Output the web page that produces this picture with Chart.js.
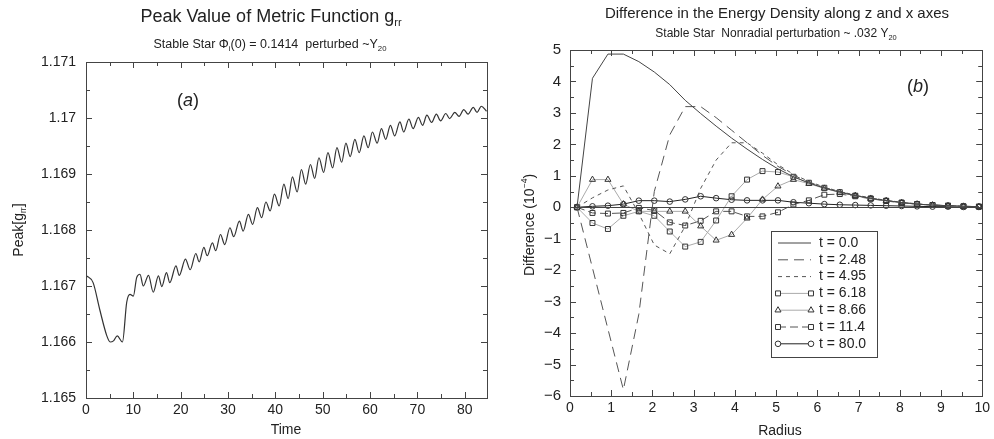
<!DOCTYPE html>
<html>
<head>
<meta charset="utf-8">
<script src="https://cdn.jsdelivr.net/npm/chart.js@4.4.1/dist/chart.umd.min.js"></script>
<style>
body { margin: 0; background: #fff; }
.wrap { display: flex; width: 994px; height: 439px; }
canvas { display: block; }
</style>
</head>
<body>
<div class="wrap">
<canvas id="peakChart" width="497" height="439"></canvas>
<canvas id="diffChart" width="497" height="439"></canvas>
</div>
<script>
// (a) peak of g_rr against time, turning points
const peakTime = [0, 1.5, 2.9, 4.4, 5.1, 5.8, 6.6, 7.7, 8.6, 9.3,
    10.0, 10.7, 11.4, 12.1, 13.2, 14.2, 15.3, 16.0, 17.0, 17.7,
    19.0, 19.7, 21.0, 22.0, 23.2, 23.9, 24.9, 25.6, 26.7, 27.4,
    28.4, 29.3, 30.4, 31.2, 32.4, 33.2, 34.3, 35.2, 36.2, 37.1,
    38.0, 38.9, 39.8, 40.8, 41.8, 42.7, 43.6, 44.6, 45.5, 46.4,
    47.4, 48.3, 49.2, 50.2, 51.1, 52.1, 53.0, 54.0, 54.9, 55.8,
    56.8, 57.7, 58.7, 59.6, 60.5, 61.5, 62.4, 63.3, 64.3, 65.2,
    66.3, 67.1, 68.2, 69.1, 70.2, 71.1, 72.0, 73.0, 74.0, 74.9,
    76.0, 76.8, 77.9, 78.8, 79.8, 80.7, 81.8, 82.6, 83.5, 84.6];
const peakValue = [1.16719, 1.16706, 1.16658, 1.16611, 1.1660, 1.16602, 1.16611, 1.1660, 1.16671, 1.16685,
    1.16682, 1.16715, 1.16721, 1.1670, 1.16719, 1.16689, 1.16718, 1.16699, 1.16724, 1.16706,
    1.16736, 1.16719, 1.16748, 1.16729, 1.16758, 1.16743, 1.16769, 1.16754, 1.16777, 1.16763,
    1.16792, 1.16774, 1.16804, 1.16788, 1.16816, 1.16798, 1.16828, 1.1681, 1.1684, 1.16822,
    1.1685, 1.16834, 1.16864, 1.16843, 1.16882, 1.16856, 1.16895, 1.16868, 1.16908, 1.16882,
    1.16917, 1.16892, 1.16929, 1.16903, 1.16938, 1.16911, 1.16947, 1.16921, 1.16955, 1.16931,
    1.16962, 1.16938, 1.16968, 1.16947, 1.16975, 1.16955, 1.16981, 1.16962, 1.16987, 1.16968,
    1.16993, 1.16975, 1.16998, 1.16981, 1.17001, 1.16987, 1.17005, 1.16992, 1.17007, 1.16995,
    1.17008, 1.16999, 1.1701, 1.17003, 1.17015, 1.17007, 1.17019, 1.1701, 1.17021, 1.17012];
const timeTicks = [0, 10, 20, 30, 40, 50, 60, 70, 80];
const peakTicks = [1.165, 1.166, 1.167, 1.168, 1.169, 1.170, 1.171];
const peakTickLabels = ['1.165', '1.166', '1.167', '1.168', '1.169', '1.17', '1.171'];

// (b) difference in energy density, grid points along radius
const radius = [0.17, 0.545, 0.92, 1.295, 1.67, 2.045, 2.42, 2.795, 3.17, 3.545,
    3.92, 4.295, 4.67, 5.045, 5.42, 5.795, 6.17, 6.545, 6.92, 7.295,
    7.67, 8.045, 8.42, 8.795, 9.17, 9.545, 9.92];
const diffT000 = [0, 4.1, 4.87, 4.87, 4.63, 4.3, 3.9, 3.4, 2.98, 2.58, 2.2, 1.85, 1.52, 1.22, 0.97, 0.77, 0.61, 0.48, 0.37, 0.28, 0.21, 0.15, 0.1, 0.07, 0.05, 0.03, 0.02];
const diffT248 = [0, -1.93, -3.87, -5.8, -3.4, 0.5, 2.3, 3.2, 3.2, 2.85, 2.45, 2.05, 1.65, 1.3, 1.02, 0.8, 0.63, 0.5, 0.38, 0.29, 0.22, 0.15, 0.1, 0.07, 0.05, 0.03, 0.02];
const diffT495 = [0, 0.3, 0.55, 0.68, -0.2, -1.2, -1.48, -0.6, 0.6, 1.5, 2.05, 2.05, 1.72, 1.35, 1.05, 0.82, 0.64, 0.5, 0.39, 0.3, 0.22, 0.16, 0.11, 0.07, 0.05, 0.03, 0.02];
const diffT618 = [0, -0.5, -0.69, -0.27, -0.13, -0.27, -0.77, -1.25, -1.1, -0.42, 0.35, 0.88, 1.15, 1.12, 0.97, 0.78, 0.62, 0.48, 0.37, 0.28, 0.21, 0.15, 0.1, 0.07, 0.05, 0.03, 0.02];
const diffT866 = [0, 0.88, 0.88, 0.1, -0.13, -0.13, -0.13, -0.13, -0.6, -1.05, -0.87, -0.35, 0.25, 0.67, 0.88, 0.75, 0.6, 0.47, 0.37, 0.28, 0.21, 0.15, 0.1, 0.07, 0.05, 0.03, 0.02];
const diffT114 = [0, -0.18, -0.2, -0.18, -0.02, -0.1, -0.48, -0.58, -0.43, -0.13, -0.13, -0.29, -0.29, -0.16, 0.09, 0.22, 0.4, 0.42, 0.35, 0.27, 0.2, 0.14, 0.1, 0.07, 0.05, 0.03, 0.02];
const diffT800 = [0, 0.03, 0.05, 0.1, 0.21, 0.21, 0.18, 0.25, 0.35, 0.29, 0.24, 0.22, 0.22, 0.22, 0.16, 0.13, 0.1, 0.08, 0.07, 0.06, 0.05, 0.04, 0.03, 0.02, 0.02, 0.01, 0.01];
const diffLabels = ['t = 0.0', 't = 2.48', 't = 4.95', 't = 6.18', 't = 8.66', 't = 11.4', 't = 80.0'];
const radiusTicks = [0, 1, 2, 3, 4, 5, 6, 7, 8, 9, 10];
const diffTicks = [-6, -5, -4, -3, -2, -1, 0, 1, 2, 3, 4, 5];

const FONT = '"Liberation Sans", Arial, Helvetica, sans-serif';
const INK = '#222';

// text with sub/superscripts: parts = [[text, 'n'|'sub'|'sup', italic]]
function drawRich(ctx, item) {
    const size = item.size;
    ctx.save();
    ctx.translate(item.x, item.y);
    if (item.rotate) ctx.rotate(item.rotate);
    ctx.fillStyle = INK;
    ctx.textBaseline = 'middle';
    ctx.textAlign = 'left';
    const pieces = item.parts.map(p => {
        const fs = p[1] === 'n' ? size : size * 0.62;
        const font = (p[2] ? 'italic ' : '') + fs + 'px ' + FONT;
        ctx.font = font;
        return { text: p[0], mode: p[1], font: font, w: ctx.measureText(p[0]).width };
    });
    const total = pieces.reduce((s, p) => s + p.w, 0);
    let x = -total / 2;
    pieces.forEach(p => {
        ctx.font = p.font;
        let dy = 0;
        if (p.mode === 'sub') dy = size * 0.32;
        if (p.mode === 'sup') dy = -size * 0.35;
        ctx.fillText(p.text, x, dy);
        x += p.w;
    });
    ctx.restore();
}

// box frame with inward ticks on all four sides, plus annotations
const framePlugin = {
    id: 'frame',
    afterDraw(chart, args, opts) {
        const ctx = chart.ctx;
        const a = chart.chartArea;
        const xs = chart.scales.x, ys = chart.scales.y;
        ctx.save();
        ctx.strokeStyle = '#444';
        ctx.lineWidth = 1;
        if (opts.zeroLine) {
            const y0 = Math.round(ys.getPixelForValue(0)) + 0.5;
            ctx.beginPath();
            ctx.moveTo(a.left, y0);
            ctx.lineTo(a.right, y0);
            ctx.stroke();
        }
        ctx.strokeRect(Math.round(a.left) + 0.5, Math.round(a.top) + 0.5,
            Math.round(a.right - a.left), Math.round(a.bottom - a.top));
        const tick = (vals, len) => {
            vals.forEach(v => {
                if (v < xs.min || v > xs.max) return;
                const px = Math.round(xs.getPixelForValue(v)) + 0.5;
                ctx.beginPath();
                ctx.moveTo(px, a.bottom); ctx.lineTo(px, a.bottom - len);
                ctx.moveTo(px, a.top); ctx.lineTo(px, a.top + len);
                ctx.stroke();
            });
        };
        const ytick = (vals, len) => {
            vals.forEach(v => {
                if (v < ys.min || v > ys.max) return;
                const py = Math.round(ys.getPixelForValue(v)) + 0.5;
                ctx.beginPath();
                ctx.moveTo(a.left, py); ctx.lineTo(a.left + len, py);
                ctx.moveTo(a.right, py); ctx.lineTo(a.right - len, py);
                ctx.stroke();
            });
        };
        const mids = vals => vals.slice(0, -1).map((v, i) => (v + vals[i + 1]) / 2)
            .concat([vals[vals.length - 1] + (vals[1] - vals[0]) / 2]);
        tick(opts.xMajor, 6);
        tick(mids(opts.xMajor), 4);
        ytick(opts.yMajor, 6);
        ytick(mids(opts.yMajor), 4);
        ctx.restore();
        (opts.texts || []).forEach(t => drawRich(ctx, t));
        if (opts.legend) drawLegend(chart, opts.legend);
    }
};

function drawLegend(chart, lg) {
    const ctx = chart.ctx;
    ctx.save();
    ctx.fillStyle = '#fff';
    ctx.fillRect(lg.x, lg.y, lg.w, lg.h);
    ctx.strokeStyle = '#444';
    ctx.lineWidth = 1;
    ctx.strokeRect(lg.x + 0.5, lg.y + 0.5, lg.w, lg.h);
    chart.data.datasets.forEach((ds, i) => {
        const y = lg.y + lg.first + i * lg.step;
        const x0 = lg.x + 7, x1 = lg.x + 40;
        ctx.strokeStyle = ds.borderColor;
        ctx.lineWidth = ds.borderWidth;
        ctx.setLineDash(ds.borderDash || []);
        ctx.beginPath();
        ctx.moveTo(x0, y); ctx.lineTo(x1, y);
        ctx.stroke();
        ctx.setLineDash([]);
        if (ds.pointRadius > 0) {
            ctx.strokeStyle = ds.pointBorderColor;
            ctx.fillStyle = '#fff';
            ctx.lineWidth = 1;
            [x0, x1].forEach(px => Chart.helpers.drawPoint(ctx,
                { pointStyle: ds.pointStyle, radius: ds.pointRadius, borderWidth: 1, rotation: 0 }, px, y));
        }
        ctx.fillStyle = INK;
        ctx.font = '14px ' + FONT;
        ctx.textBaseline = 'middle';
        ctx.textAlign = 'left';
        ctx.fillText(ds.label, lg.x + 48, y);
    });
    ctx.restore();
}

Chart.register(framePlugin);

const tickFont = { family: FONT, size: 14 };

new Chart(document.getElementById('peakChart'), {
    type: 'line',
    data: {
        datasets: [{
            data: peakTime.map((t, i) => ({ x: t, y: peakValue[i] })),
            borderColor: '#333',
            borderWidth: 1.2,
            pointRadius: 0,
            cubicInterpolationMode: 'monotone',
            fill: false
        }]
    },
    options: {
        responsive: false,
        animation: false,
        devicePixelRatio: 1,
        layout: { padding: { left: 0, right: 10, top: 62, bottom: 0 } },
        plugins: {
            legend: { display: false },
            tooltip: { enabled: false },
            frame: {
                xMajor: timeTicks,
                yMajor: peakTicks,
                texts: [
                    { x: 271, y: 17, size: 18, parts: [['Peak Value of Metric Function g', 'n'], ['rr', 'sub']] },
                    { x: 270, y: 45, size: 12.5, parts: [['Stable Star \u03A6', 'n'], ['i', 'sub'], ['(0) = 0.1414  perturbed ~Y', 'n'], ['20', 'sub']] },
                    { x: 188, y: 101, size: 18, parts: [['(', 'n'], ['a', 'n', true], [')', 'n']] },
                    { x: 286, y: 430, size: 14, parts: [['Time', 'n']] },
                    { x: 19, y: 230, size: 14, rotate: -Math.PI / 2, parts: [['Peak[g', 'n'], ['rr', 'sub'], [']', 'n']] }
                ]
            }
        },
        scales: {
            x: {
                type: 'linear',
                min: 0,
                max: 84.7,
                grid: { display: false, drawTicks: false },
                border: { display: false },
                afterBuildTicks: s => { s.ticks = timeTicks.map(v => ({ value: v })); },
                afterFit: s => { s.height = 41; },
                ticks: { padding: 4, color: INK, font: tickFont, maxRotation: 0 }
            },
            y: {
                type: 'linear',
                min: 1.165,
                max: 1.171,
                grid: { display: false, drawTicks: false },
                border: { display: false },
                afterBuildTicks: s => { s.ticks = peakTicks.map(v => ({ value: v })); },
                afterFit: s => { s.width = 86; },
                ticks: { padding: 10, color: INK, font: tickFont, callback: (v, i) => peakTickLabels[i] }
            }
        }
    }
});

const diffSeries = [diffT000, diffT248, diffT495, diffT618, diffT866, diffT114, diffT800];
const diffStyles = [
    { borderColor: '#444', borderDash: [], pointStyle: 'circle', pointRadius: 0 },
    { borderColor: '#555', borderDash: [10, 6], pointStyle: 'circle', pointRadius: 0 },
    { borderColor: '#555', borderDash: [4, 4], pointStyle: 'circle', pointRadius: 0 },
    { borderColor: '#aaa', borderDash: [], pointStyle: 'rect', pointRadius: 3.5 },
    { borderColor: '#aaa', borderDash: [], pointStyle: 'triangle', pointRadius: 3.5 },
    { borderColor: '#555', borderDash: [8, 4], pointStyle: 'rect', pointRadius: 3.5 },
    { borderColor: '#222', borderDash: [], pointStyle: 'circle', pointRadius: 2.8 }
];

new Chart(document.getElementById('diffChart'), {
    type: 'line',
    data: {
        datasets: diffSeries.map((vals, i) => Object.assign({
            label: diffLabels[i],
            data: radius.map((r, k) => ({ x: r, y: vals[k] })),
            borderWidth: 1,
            pointBorderColor: '#333',
            pointBackgroundColor: 'rgba(255,255,255,0)',
            pointBorderWidth: 1,
            tension: 0,
            fill: false
        }, diffStyles[i]))
    },
    options: {
        responsive: false,
        animation: false,
        devicePixelRatio: 1,
        layout: { padding: { left: 0, right: 8, top: 50, bottom: 0 } },
        plugins: {
            legend: { display: false },
            tooltip: { enabled: false },
            frame: {
                xMajor: radiusTicks,
                yMajor: diffTicks,
                zeroLine: true,
                legend: { x: 274, y: 231, w: 106, h: 126, first: 12, step: 16.8 },
                texts: [
                    { x: 280, y: 14, size: 15, parts: [['Difference in the Energy Density along z and x axes', 'n']] },
                    { x: 279, y: 34, size: 12, parts: [['Stable Star  Nonradial perturbation ~ .032 Y', 'n'], ['20', 'sub']] },
                    { x: 421, y: 87, size: 18, parts: [['(', 'n'], ['b', 'n', true], [')', 'n']] },
                    { x: 283, y: 431, size: 14, parts: [['Radius', 'n']] },
                    { x: 33, y: 225, size: 14, rotate: -Math.PI / 2, parts: [['Difference (10', 'n'], ['\u22124', 'sup'], [')', 'n']] }
                ]
            }
        },
        scales: {
            x: {
                type: 'linear',
                min: 0,
                max: 10,
                grid: { display: false, drawTicks: false },
                border: { display: false },
                afterBuildTicks: s => { s.ticks = radiusTicks.map(v => ({ value: v })); },
                afterFit: s => { s.height = 43; },
                ticks: { padding: 4, color: INK, font: tickFont, maxRotation: 0 }
            },
            y: {
                type: 'linear',
                min: -6,
                max: 5,
                grid: { display: false, drawTicks: false },
                border: { display: false },
                afterBuildTicks: s => { s.ticks = diffTicks.map(v => ({ value: v })); },
                afterFit: s => { s.width = 73; },
                ticks: { padding: 9, color: INK, font: { family: FONT, size: 15 },
                    callback: v => (v < 0 ? '\u2212' + Math.abs(v) : String(v)) }
            }
        }
    }
});
</script>
</body>
</html>
